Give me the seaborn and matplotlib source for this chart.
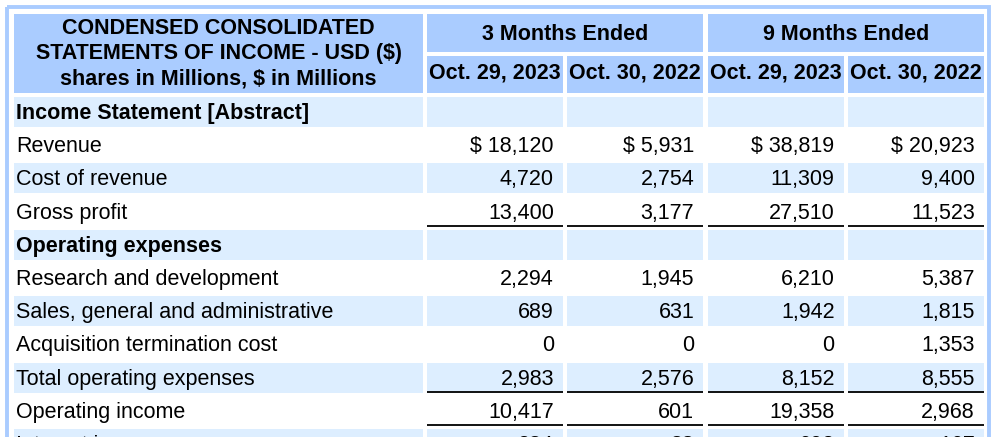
import matplotlib
matplotlib.use("Agg")
import matplotlib.pyplot as plt
from matplotlib.patches import Rectangle
import seaborn as sns

# ---------------- data ----------------
title_lines = ["CONDENSED CONSOLIDATED", "STATEMENTS OF INCOME - USD ($)",
               "shares in Millions, $ in Millions"]
period_groups = ["3 Months Ended", "9 Months Ended"]
period_dates = ["Oct. 29, 2023", "Oct. 30, 2022", "Oct. 29, 2023", "Oct. 30, 2022"]

row_labels = ["Income Statement [Abstract]", "Revenue", "Cost of revenue", "Gross profit",
              "Operating expenses", "Research and development",
              "Sales, general and administrative", "Acquisition termination cost",
              "Total operating expenses", "Operating income", "Interest income"]
bold_rows = ["Income Statement [Abstract]", "Operating expenses"]
dollar_rows = ["Revenue"]
underlined_rows = ["Gross profit", "Total operating expenses", "Operating income"]

q3_2023 = [None, 18120, 4720, 13400, None, 2294, 689, 0, 2983, 10417, 234]
q3_2022 = [None, 5931, 2754, 3177, None, 1945, 631, 0, 2576, 601, 88]
ytd_2023 = [None, 38819, 11309, 27510, None, 6210, 1942, 0, 8152, 19358, 602]
ytd_2022 = [None, 20923, 9400, 11523, None, 5387, 1815, 1353, 8555, 2968, 167]
series = [q3_2023, q3_2022, ytd_2023, ytd_2022]

# ---------------- style ----------------
sns.set_theme(style="white")
plt.rcParams["font.family"] = ["Liberation Sans", "DejaVu Sans"]

HEAD = "#aaccff"
STRIPE = "#ddeeff"
FS = 15.5

W, H = 1000, 437
fig = plt.figure(figsize=(W / 100, H / 100), dpi=100)
ax = fig.add_axes([0, 0, 1, 1])
ax.set_xlim(0, W)
ax.set_ylim(H, 0)
ax.axis("off")

# layout
label_x0, label_x1 = 14, 423
data_x0, col_w, col_gap = 427, 136, 4.3
col_left = [data_x0 + i * (col_w + col_gap) for i in range(4)]
hdr1_top, hdr1_bot = 14, 52
hdr2_top, hdr2_bot = 56, 93
body_top, row_h, row_pitch = 97, 30, 33.2

# outer frame
ax.add_patch(Rectangle((6.5, 6.5), 982, H + 20, fill=False, edgecolor=HEAD, lw=2.8))

# header cells
ax.add_patch(Rectangle((label_x0, hdr1_top), label_x1 - label_x0, hdr2_bot - hdr1_top,
                       color=HEAD, lw=0))
for g in range(2):
    x0 = col_left[2 * g]
    x1 = col_left[2 * g + 1] + col_w
    ax.add_patch(Rectangle((x0, hdr1_top), x1 - x0, hdr1_bot - hdr1_top, color=HEAD, lw=0))
    ax.text((x0 + x1) / 2, (hdr1_top + hdr1_bot) / 2 + 1, period_groups[g],
            ha="center", va="center", fontsize=FS, fontweight="bold", color="black")
for i, d in enumerate(period_dates):
    x0 = col_left[i]
    ax.add_patch(Rectangle((x0, hdr2_top), col_w, hdr2_bot - hdr2_top, color=HEAD, lw=0))
    ax.text(x0 + col_w / 2, (hdr2_top + hdr2_bot) / 2 - 1, d,
            ha="center", va="center", fontsize=FS, fontweight="bold", color="black")
cx = (label_x0 + label_x1) / 2
for k, line in enumerate(title_lines):
    ax.text(cx, 29 + k * 25, line, ha="center", va="center",
            fontsize=FS, fontweight="bold", color="black")

# body
for r, lab in enumerate(row_labels):
    top = body_top + r * row_pitch
    if r % 2 == 0:
        ax.add_patch(Rectangle((label_x0, top), label_x1 - label_x0, row_h, color=STRIPE, lw=0))
        for c in range(4):
            ax.add_patch(Rectangle((col_left[c], top), col_w, row_h, color=STRIPE, lw=0))
    base = top + 22
    ax.text(label_x0 + 2, base, lab, ha="left", va="baseline", fontsize=FS,
            fontweight="bold" if lab in bold_rows else "normal", color="black")
    for c in range(4):
        v = series[c][r]
        if v is None:
            continue
        s = f"{v:,}"
        if lab in dollar_rows:
            s = "$ " + s
        ax.text(col_left[c] + col_w - 9, base, s, ha="right", va="baseline",
                fontsize=FS, color="black")
        if lab in underlined_rows:
            yl = top + row_h - 0.5
            ax.plot([col_left[c], col_left[c] + col_w], [yl, yl], color="black",
                    lw=1.3, solid_capstyle="butt")

fig.savefig("out.png", dpi=100)
